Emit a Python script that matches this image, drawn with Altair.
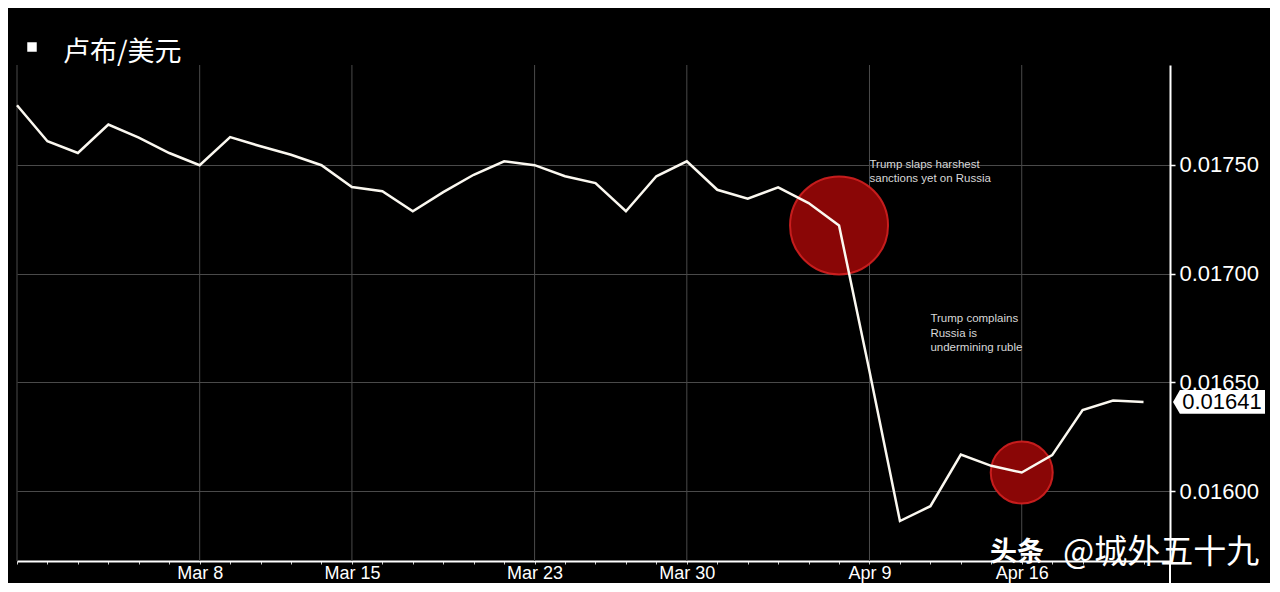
import altair as alt
import pandas as pd

# ---------------- data ----------------
dates = ["Feb 28", "Mar 1", "Mar 2", "Mar 5", "Mar 6", "Mar 7", "Mar 8", "Mar 9",
         "Mar 12", "Mar 13", "Mar 14", "Mar 15", "Mar 16", "Mar 19", "Mar 20",
         "Mar 21", "Mar 22", "Mar 23", "Mar 26", "Mar 27", "Mar 28", "Mar 29",
         "Mar 30", "Apr 2", "Apr 3", "Apr 4", "Apr 5", "Apr 6", "Apr 9", "Apr 10",
         "Apr 11", "Apr 12", "Apr 13", "Apr 16", "Apr 17", "Apr 18", "Apr 19", "Apr 20"]
values = [0.017775, 0.017609, 0.017555, 0.017686, 0.017626, 0.017555, 0.017499, 0.017628,
          0.017586, 0.017547, 0.017499, 0.017399, 0.017379, 0.017287, 0.017375,
          0.017455, 0.017517, 0.017499, 0.017448, 0.017417, 0.017287, 0.017448,
          0.017517, 0.017386, 0.017345, 0.017397, 0.017325, 0.017222, 0.016551, 0.015862,
          0.015930, 0.016168, 0.016116, 0.016085, 0.016165, 0.016372, 0.016416, 0.016410]
tick_dates = ["Mar 8", "Mar 15", "Mar 23", "Mar 30", "Apr 9", "Apr 16"]
y_ticks = [0.0160, 0.0165, 0.0170, 0.0175]
title_text = "卢布/美元"
event_dates = ["Apr 6", "Apr 16"]
event_sizes = [9604, 3844]
ann_texts = ["Trump slaps harshest\nsanctions yet on Russia",
             "Trump complains\nRussia is\nundermining ruble"]
ann_dates = ["Apr 9", "Apr 11"]
ann_values = [0.017528, 0.016819]
watermark_a = "头条"
watermark_b = "@城外五十九"

# ---------------- tables ----------------
pos = {d: i for i, d in enumerate(dates)}
df = pd.DataFrame({"i": list(range(len(dates))), "date": dates, "v": values})
grid_df = pd.DataFrame({"i": [0] + [pos[d] for d in tick_dates]})
ev_df = pd.DataFrame({"i": [pos[d] for d in event_dates],
                      "v": [values[pos[d]] for d in event_dates],
                      "s": event_sizes})
ann_df = pd.DataFrame({"i": [pos[d] for d in ann_dates], "v": ann_values, "t": ann_texts})
last_df = df.iloc[[-1]]

label_expr = "".join(f"datum.value == {pos[d]} ? '{d}' : " for d in tick_dates) + "''"

W, H = 1153, 496
FONT = "Liberation Sans, Arimo, Arial, sans-serif"
CJK = "Noto Sans CJK SC"

xscale = alt.Scale(domain=[0, 37.87], nice=False, zero=False)
yscale = alt.Scale(domain=[0.015678, 0.01796], nice=False, zero=False)

X = alt.X("i:Q", scale=xscale, title=None,
          axis=alt.Axis(values=list(range(len(dates))), labelExpr=label_expr,
                        grid=False, domainColor="white", domainWidth=2,
                        tickColor="#cccccc", tickSize=3, tickWidth=1,
                        labelColor="white", labelFontSize=18, labelFont=FONT,
                        labelPadding=0, labelFlush=False, labelOverlap=False))
Y = alt.Y("v:Q", scale=yscale, title=None,
          axis=alt.Axis(orient="right", values=y_ticks, format=".5f",
                        grid=True, gridColor="#4a4a4a", gridWidth=1,
                        domainColor="white", domainWidth=2,
                        tickColor="white", tickSize=5, tickWidth=1.5,
                        labelColor="white", labelFontSize=22, labelFont=FONT,
                        labelPadding=4))

vgrid = alt.Chart(grid_df).mark_rule(color="#4a4a4a", strokeWidth=1).encode(
    x=X, y=alt.value(0), y2=alt.value(H))

circles = alt.Chart(ev_df).mark_point(
    shape="circle", filled=True, fill="#8a0606", opacity=1,
    stroke="#d42020", strokeWidth=2, strokeOpacity=0.9
).encode(x=X, y=Y, size=alt.Size("s:Q", scale=None, legend=None))

line = alt.Chart(df).mark_line(color="#fbf8f0", strokeWidth=2.5).encode(x=X, y=Y)

ann = alt.Chart(ann_df).mark_text(
    align="left", baseline="top", color="#d8d8d8", fontSize=11.5,
    font=FONT, lineBreak="\n", lineHeight=14.5
).encode(x=X, y=Y, text="t:N")

box_path = "M-1,0 L-0.85,-0.26 L1,-0.26 L1,0.26 L-0.85,0.26 Z"
box = alt.Chart(last_df).mark_point(
    shape=box_path, filled=True, fill="white", opacity=1, size=8464, strokeWidth=0
).encode(x=alt.value(W + 49), y=Y)
box_text = alt.Chart(last_df).mark_text(
    color="black", fontSize=22, font=FONT, align="center", baseline="middle"
).encode(x=alt.value(W + 52), y=Y, text=alt.Text("v:Q", format=".5f"))

axis_ext = alt.Chart(df.iloc[[0]]).mark_rule(color="white", strokeWidth=2).encode(
    x=alt.value(W), y=alt.value(H), y2=alt.value(H + 30))

title_sq = alt.Chart(df.iloc[[0]]).mark_point(
    shape="square", filled=True, fill="white", opacity=1, size=90
).encode(x=alt.value(15), y=alt.value(-18))
title = alt.Chart(df.iloc[[0]]).mark_text(
    text=title_text, color="white", fontSize=27, font=CJK, align="left",
    baseline="middle"
).encode(x=alt.value(46), y=alt.value(-12))

wm1 = alt.Chart(df.iloc[[0]]).mark_text(
    text=watermark_a, color="white", fontSize=27, font=CJK, fontWeight="bold",
    align="left", baseline="middle"
).encode(x=alt.value(973), y=alt.value(488))
wm2 = alt.Chart(df.iloc[[0]]).mark_text(
    text=watermark_b, color="white", fontSize=33, font=CJK,
    align="left", baseline="middle"
).encode(x=alt.value(1046), y=alt.value(488))

chart = alt.layer(
    vgrid, circles, line, ann, axis_ext, box, box_text, title_sq, title, wm1, wm2
).properties(
    width=W, height=H, autosize="none",
    padding={"left": 9, "top": 57, "right": 100, "bottom": 22}
).configure(background="#000000").configure_view(strokeWidth=0)

chart.save("out.html", embed_options={"renderer": "svg", "actions": False})
